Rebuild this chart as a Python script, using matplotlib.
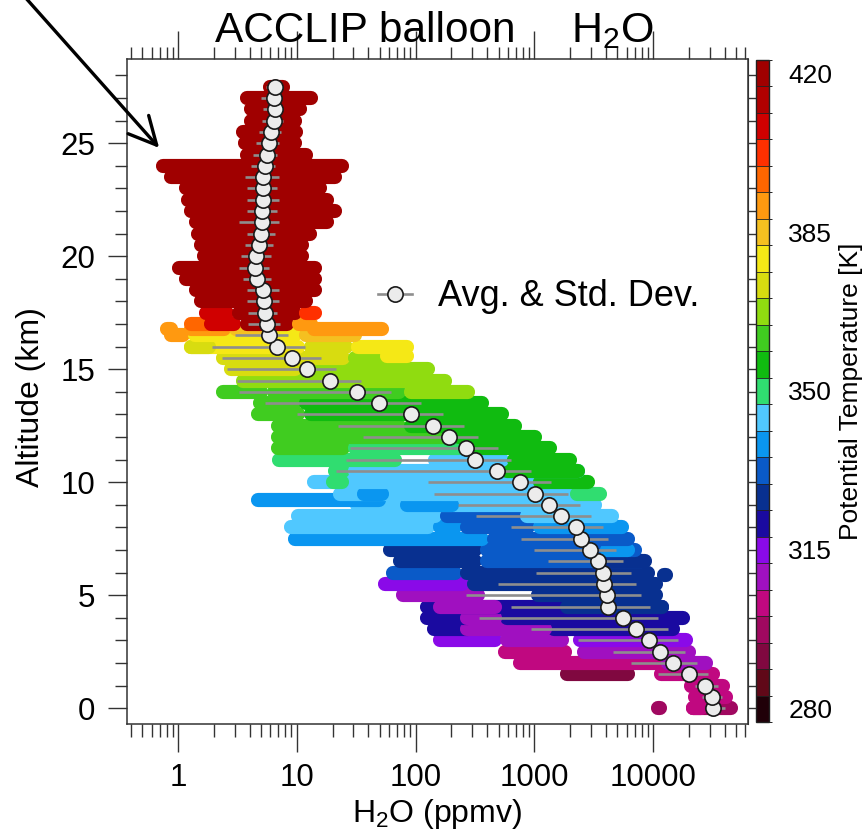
import numpy as np
import matplotlib
matplotlib.use('Agg')
import matplotlib.pyplot as plt
from matplotlib.colors import ListedColormap, BoundaryNorm
from matplotlib.cm import ScalarMappable
from matplotlib.patches import FancyArrowPatch
from matplotlib.lines import Line2D
import matplotlib.ticker as mticker

plt.rcParams['font.family'] = ['Liberation Sans', 'DejaVu Sans']
plt.rcParams['mathtext.fontset'] = 'custom'
plt.rcParams['mathtext.rm'] = 'Liberation Sans'
plt.rcParams['mathtext.it'] = 'Liberation Sans:italic'
plt.rcParams['mathtext.bf'] = 'Liberation Sans:bold'

# ---------------- data ----------------
theta_colors = ['#200008', '#600818', '#800840', '#A00860', '#C00880', '#A010C0',
                '#8A0AE8', '#1A0AA0', '#083090', '#0A5AC8', '#0A96F0', '#50C8FF',
                '#30DD70', '#10BB10', '#40CC20', '#90DC10', '#D8DC10', '#F5E816',
                '#F5C020', '#FF9910', '#FF6600', '#FF3000', '#D00000', '#B00000',
                '#A00000']
theta_ticks = [280, 315, 350, 385, 420]

avg_alt = [0.0, 0.5, 1.0, 1.5, 2.0, 2.5, 3.0, 3.5, 4.0, 4.5, 5.0, 5.5, 6.0, 6.5,
           7.0, 7.5, 8.0, 8.5, 9.0, 9.5, 10.0, 10.5, 11.0, 11.5, 12.0, 12.5, 13.0,
           13.5, 14.0, 14.5, 15.0, 15.5, 16.0, 16.5, 17.0, 17.5, 18.0, 18.5, 19.0,
           19.5, 20.0, 20.5, 21.0, 21.5, 22.0, 22.5, 23.0, 23.5, 24.0, 24.5, 25.0,
           25.5, 26.0, 26.5, 27.0, 27.5]
avg_h2o = [32100, 31600, 27500, 20100, 14800, 11500, 9290, 7140, 5530, 4150, 4080,
           3890, 3780, 3420, 2920, 2490, 2230, 1690, 1320, 1005, 755, 489, 314, 265,
           193, 139, 91, 49.3, 31.9, 19.0, 12.2, 9.1, 6.78, 5.8, 5.59, 5.38, 5.3,
           5.18, 4.61, 4.44, 4.54, 4.8, 4.99, 5.06, 5.1, 5.18, 5.18, 5.21, 5.38,
           5.59, 5.81, 6.09, 6.38, 6.58, 6.38, 6.53]
sd_lo = [29300, 25600, 22400, 11100, 6580, 4610, 2340, 942, 343, 638, 266, 492,
         1040, 1300, 998, 774, 638, 321, 226, 143, 127, 21.2, 25.8, 27.9, 35.9,
         22.1, 10.1, 5.4, 3.24, 3.13, 2.58, 2.34, 1.93, 3.03, 3.91, 3.91, 3.8, 3.8,
         3.51, 3.25, 3.38, 3.65, 3.8, 3.25, 3.8, 3.8, 3.8, 3.65, 4.1, 4.3, 4.5,
         4.8, 5.1, 5.18, 4.99, 5.5]
sd_hi = [40600, 37800, 35500, 29200, 23300, 18600, 16300, 13400, 11100, 9330, 7980,
         7250, 6580, 5600, 4910, 4190, 3800, 3020, 2410, 1930, 1380, 942, 638, 495,
         336, 257, 169, 111, 61.8, 34.5, 21.2, 15.9, 11.8, 8.51, 7.28, 6.87, 7.06,
         7.06, 6.04, 5.81, 6.04, 6.28, 6.52, 7.06, 6.79, 7.06, 6.79, 7.06, 6.53,
         6.8, 7.1, 7.4, 7.6, 7.34, 7.06, 7.4]

# individual balloon measurements, grouped as horizontal runs of points
cloud_alt = [0.0, 0.0, 0.0, 0.5, 1.0, 1.5, 1.5, 2.0, 2.0, 2.5, 2.5,
             3.0, 3.0, 3.0, 3.5, 3.5, 3.5, 4.0, 4.0, 4.0, 4.5, 4.5, 4.5,
             5.0, 5.0, 5.5, 5.5, 5.9, 6.0, 6.0, 6.5, 6.5, 6.5, 7.0, 7.0, 7.0,
             7.5, 7.5, 8.0, 8.0, 8.0, 8.0, 8.5, 8.5, 8.5, 9.0, 9.0, 9.2,
             9.5, 9.5, 9.5, 10.0, 10.0, 10.0, 10.5, 10.5, 10.5, 11.0, 11.0, 11.0,
             11.5, 11.5, 11.5, 12.0, 12.0, 12.5, 12.5, 13.0, 13.0, 13.5, 13.5,
             14.0, 14.0, 14.0, 14.5, 15.0, 15.0, 15.5, 15.5, 15.6,
             16.0, 16.0, 16.0, 16.0, 16.5, 16.5, 16.5, 16.8, 16.8, 16.8, 16.8,
             17.0, 17.0, 17.0, 17.0, 17.5, 17.5, 17.5,
             18.0, 18.5, 19.0, 19.5, 20.0, 20.5, 21.0, 21.5, 22.0, 22.5, 23.0,
             23.5, 24.0, 24.5, 25.0, 25.5, 26.0, 26.5, 27.0, 27.5]
cloud_lo = [11000, 21500, 21500, 22400, 20700, 1900, 11600, 760, 13300, 570, 2640,
            160, 590, 2440, 143, 1470, 271, 125, 590, 271, 125, 1900, 160,
            78, 1075, 55, 311, 12400, 65, 271, 74, 400, 4120, 61, 400, 4120,
            9.6, 458, 8.85, 160, 271, 1120, 10.3, 183, 870, 32, 84, 4.75,
            23, 37, 2300, 14, 20, 1120, 20.8, 31, 590, 7.1, 146, 678,
            7.0, 30.7, 293, 7.0, 232, 7.0, 91, 4.75, 13.1, 4.85, 12,
            2.4, 6.4, 91, 3.55, 2.8, 12, 2.41, 30.7, 58,
            1.29, 1.29, 13.1, 33, 0.875, 1.39, 12, 0.8, 1.29, 3.1, 13.9,
            1.29, 1.9, 3.77, 10.5, 1.73, 3.28, 12,
            1.57, 1.42, 1.17, 1.02, 1.66, 1.57, 1.48, 1.42, 1.29, 1.22, 1.17,
            0.88, 0.75, 3.8, 3.65, 3.5, 4.1, 4.1, 3.8, 6.0]
cloud_hi = [11400, 45000, 25100, 40900, 38500, 6200, 31700, 10500, 27700, 1830, 19900,
            467, 1720, 18800, 276, 14600, 1230, 276, 17700, 467, 12000, 12000, 467,
            336, 10500, 246, 10500, 12800, 215, 9140, 317, 8140, 8630, 317, 7110, 6200,
            363, 6200, 127, 215, 887, 5520, 146, 690, 4550, 3260, 203, 49,
            3260, 52, 3600, 887, 24, 2850, 24.3, 2350, 2350, 67, 536, 2010,
            24.3, 232, 1360, 183, 1020, 72, 690, 10.3, 536, 9.6, 363,
            5.0, 72, 276, 176, 9.6, 127, 24.3, 72, 84,
            10.3, 1.83, 26, 84, 1.10, 9.6, 30.7, 0.88, 2.45, 4.84, 52,
            1.77, 2.95, 8.34, 13.1, 2.6, 9.57, 14.2,
            12.0, 14.2, 14.2, 14.2, 11.0, 11.0, 12.8, 18.1, 20.8, 18.1, 15.6,
            20.8, 23.9, 12.0, 9.57, 9.9, 9.6, 10.7, 13.1, 7.7]
cloud_theta = [297.5, 297.5, 303, 303, 303, 292, 303, 303, 309, 303, 309,
               315, 309, 315, 321, 318.5, 309, 321, 321, 309, 321, 327, 309,
               309, 327, 315, 327, 327, 332.5, 327, 327, 332.5, 327, 327, 332.5, 338,
               338, 332.5, 344, 338, 332.5, 338, 344, 332.5, 344, 344, 338, 338,
               344, 338, 350, 344, 350, 356, 350, 344, 356, 350, 344, 356,
               362, 350, 356, 362, 356, 362, 356, 362, 356, 362, 356,
               362, 362, 367.5, 367.5, 373, 367.5, 373, 367.5, 379,
               379, 373, 373, 379, 391, 379, 385, 391, 391, 385, 391,
               397, 408, 420, 391, 408, 420, 402.5,
               420, 420, 420, 420, 420, 420, 420, 420, 420, 420, 420,
               420, 420, 420, 420, 420, 420, 420, 420, 420]

# ---------------- figure ----------------
W, H = 866, 832
fig = plt.figure(figsize=(W / 100, H / 100), dpi=100)
ax = fig.add_axes([127 / W, 1 - 724 / H, 621 / W, 665 / H])
ax.set_xscale('log')
ax.set_xlim(0.3715, 63000)
ax.set_ylim(-0.695, 28.73)

cmap = ListedColormap(theta_colors)
step = 140 / 24
bounds = 280 - step / 2 + step * np.arange(26)
norm = BoundaryNorm(bounds, cmap.N)

lc = ax.hlines(cloud_alt, cloud_lo, cloud_hi,
               colors=cmap(norm(np.array(cloud_theta))), linewidth=10.2, zorder=2)
lc.set_capstyle('round')
lc.set_antialiased(True)

ax.hlines(avg_alt, sd_lo, sd_hi, color='#8e8e8e', lw=1.9, zorder=3)
ax.plot(avg_h2o, avg_alt, linestyle='none', marker='o', ms=11,
        mfc='#ececec', mec='#1a1a1a', mew=1.2, zorder=4)

# ticks
spine_c = '#333333'
for s in ax.spines.values():
    s.set_color(spine_c)
    s.set_linewidth(1.1)
ax.xaxis.set_major_locator(mticker.LogLocator(base=10, numticks=15))
ax.xaxis.set_minor_locator(mticker.LogLocator(base=10, subs=np.arange(2, 10), numticks=15))
ax.xaxis.set_major_formatter(mticker.FuncFormatter(lambda v, p: f'{v:g}'))
ax.xaxis.set_minor_formatter(mticker.NullFormatter())
ax.yaxis.set_major_locator(mticker.MultipleLocator(5))
ax.yaxis.set_minor_locator(mticker.MultipleLocator(1))
ax.tick_params(axis='x', which='major', direction='out', length=20, width=1,
               top=True, bottom=True, color=spine_c, labelsize=22.5, pad=8)
ax.tick_params(axis='x', which='minor', direction='out', length=9, width=1,
               top=True, bottom=True, color=spine_c)
ax.tick_params(axis='y', which='major', direction='out', length=14, width=1,
               left=True, right=False, color=spine_c, labelsize=22.5, pad=9)
ax.tick_params(axis='y', which='minor', direction='out', length=9, width=1,
               left=True, right=False, color=spine_c)
sec = ax.secondary_yaxis('right')
sec.yaxis.set_major_locator(mticker.MultipleLocator(1))
sec.tick_params(axis='y', which='major', direction='out', length=7, width=1,
                color=spine_c, labelright=False)
sec.spines['right'].set_color(spine_c)

# legend
handle = Line2D([], [], color='#8e8e8e', lw=1.9, marker='o', ms=11,
                mfc='#ececec', mec='#1a1a1a', mew=1.2)
ax.legend([handle], ['Avg. & Std. Dev.'], loc='center left',
          bbox_to_anchor=((378 - 127) / 621, (724 - 297) / 665), frameon=False,
          fontsize=26, handlelength=0.95, handletextpad=0.7, borderpad=0,
          borderaxespad=0)

# colorbar
cax = fig.add_axes([756 / W, 1 - 722 / H, 13 / W, 662 / H])
cb = fig.colorbar(ScalarMappable(norm=norm, cmap=cmap), cax=cax, ticks=theta_ticks,
                  drawedges=True)
cb.dividers.set_color('#222222')
cb.dividers.set_linewidth(0.6)
cb.outline.set_edgecolor('#222222')
cb.outline.set_linewidth(1.0)
cax.tick_params(length=0, labelsize=19, pad=14)
fig.text(851 / W, 1 - 391 / H, 'Potential Temperature [K]', rotation=90,
         ha='center', va='center', fontsize=19)

# labels and title
fig.text(437.5 / W, 1 - 822 / H, 'H$_2$O (ppmv)', ha='center', va='baseline', fontsize=23)
fig.text(31 / W, 1 - 397 / H, 'Altitude (km)', rotation=90, ha='center',
         va='center', fontsize=23)
fig.text(365 / W, 1 - 42 / H, 'ACCLIP balloon', ha='center', va='baseline', fontsize=30.5)
fig.text(612 / W, 1 - 42 / H, 'H$_2$O', ha='center', va='baseline', fontsize=31)

# annotation arrow
arrow = FancyArrowPatch(posA=(24 / W, 1 + 4 / H), posB=(161 / W, 1 - 150 / H),
                        transform=fig.transFigure, arrowstyle='->,head_length=0.9,head_width=0.45',
                        mutation_scale=22, lw=2.4, color='black', clip_on=False)
fig.add_artist(arrow)

fig.savefig('out.png', dpi=100)
